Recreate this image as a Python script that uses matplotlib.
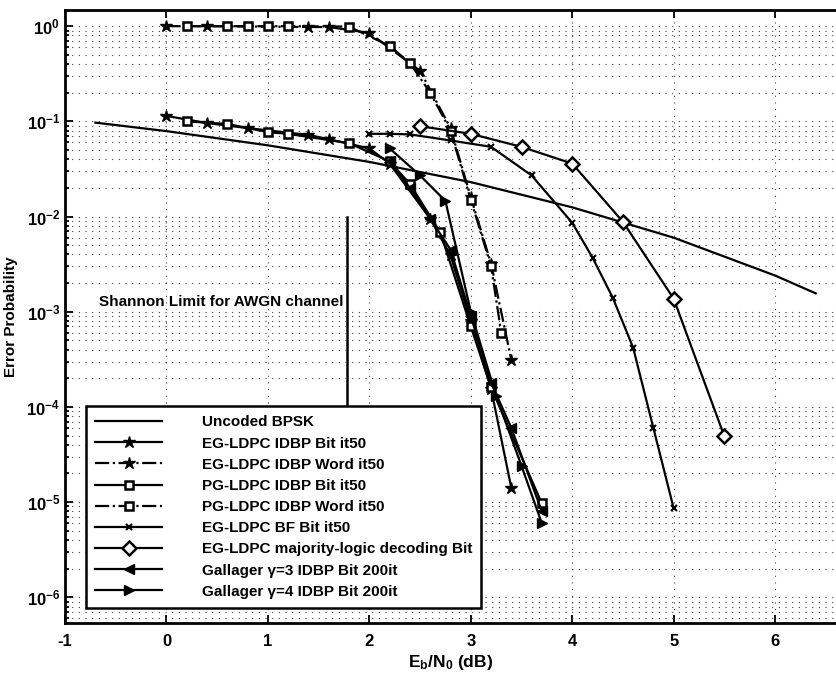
import math
import matplotlib
matplotlib.use("Agg")
import matplotlib.pyplot as plt
from matplotlib.ticker import FixedLocator, FuncFormatter, LogLocator, NullFormatter

plt.rcParams['font.family'] = ['Liberation Sans', 'DejaVu Sans']
plt.rcParams['mathtext.fontset'] = 'custom'
plt.rcParams['mathtext.rm'] = 'Liberation Sans'
plt.rcParams['mathtext.bf'] = 'Liberation Sans:bold'
plt.rcParams['mathtext.it'] = 'Liberation Sans:italic'

# ---------------- data ----------------
bpsk_x = [-0.7, 0, 1, 2, 3, 4, 5, 6, 6.4]
bpsk_y = [0.097, 0.079, 0.056, 0.0375, 0.023, 0.0125, 0.006, 0.0024, 0.00156]

eg_bit_x = [0, 0.4, 0.8, 1.4, 1.6, 2.0, 2.2, 2.6, 2.8, 3.0, 3.2, 3.4]
eg_bit_y = [0.114, 0.096, 0.085, 0.072, 0.065, 0.052, 0.036, 0.0095, 0.0039, 8e-4, 1.55e-4, 1.4e-5]

eg_word_x = [0, 0.4, 1.4, 1.6, 2.0, 2.5, 2.8, 3.0, 3.2, 3.4]
eg_word_y = [1.0, 1.0, 0.98, 0.98, 0.85, 0.34, 0.085, 0.016, 3.2e-3, 3.1e-4]

pg_bit_x = [0.2, 0.6, 1.0, 1.2, 1.8, 2.2, 2.4, 2.7, 3.0, 3.2, 3.7]
pg_bit_y = [0.10, 0.094, 0.077, 0.074, 0.059, 0.038, 0.022, 0.0068, 7e-4, 1.6e-4, 9.7e-6]

pg_word_x = [0.2, 0.6, 0.8, 1.0, 1.2, 1.8, 2.2, 2.4, 2.6, 2.8, 3.0, 3.2, 3.3]
pg_word_y = [1.0, 1.0, 1.0, 1.0, 1.0, 0.99, 0.62, 0.41, 0.2, 0.08, 0.015, 3e-3, 6e-4]

bf_x = [2.0, 2.2, 2.4, 2.8, 3.2, 3.6, 4.0, 4.2, 4.4, 4.6, 4.8, 5.0]
bf_y = [0.074, 0.074, 0.073, 0.063, 0.054, 0.027, 0.0086, 0.0037, 0.0014, 4.2e-4, 6e-5, 8.6e-6]

mlg_x = [2.5, 3.0, 3.5, 4.0, 4.5, 5.0, 5.5]
mlg_y = [0.089, 0.074, 0.054, 0.036, 0.0088, 0.00137, 4.9e-5]

gal3_x = [2.2, 2.4, 2.6, 2.8, 3.0, 3.2, 3.4, 3.7]
gal3_y = [0.038, 0.02, 0.0095, 0.0045, 9e-4, 1.8e-4, 6e-5, 8e-6]

gal4_x = [2.2, 2.5, 2.75, 3.0, 3.25, 3.5, 3.7]
gal4_y = [0.052, 0.027, 0.0146, 1e-3, 1.3e-4, 2.4e-5, 6e-6]

shannon_x = 1.78
shannon_y = [1e-2, 1e-4]

labels = ["Uncoded BPSK",
          "EG-LDPC IDBP Bit it50",
          "EG-LDPC IDBP Word it50",
          "PG-LDPC IDBP Bit it50",
          "PG-LDPC IDBP Word it50",
          "EG-LDPC BF Bit it50",
          "EG-LDPC majority-logic decoding Bit",
          "Gallager \u03b3=3 IDBP Bit 200it",
          "Gallager \u03b3=4 IDBP Bit 200it"]

xticks = [-1, 0, 1, 2, 3, 4, 5, 6]
yticks_exp = [0, -1, -2, -3, -4, -5, -6]

# ---------------- figure ----------------
W, H = 836, 679
fig = plt.figure(figsize=(W / 100, H / 100), dpi=100)
ax = fig.add_axes([65 / W, 56 / H, 1 - 65 / W, (623 - 10) / H])

lw = 1.6
k = 'black'
ax.semilogy(bpsk_x, bpsk_y, '-', color=k, lw=lw, label=labels[0])
ax.semilogy(eg_bit_x, eg_bit_y, '-', color=k, lw=lw, marker='*', ms=9,
            mfc=k, mec=k, label=labels[1])
ax.semilogy(eg_word_x, eg_word_y, '-.', color=k, lw=lw, marker='*', ms=9,
            mfc=k, mec=k, label=labels[2])
ax.semilogy(pg_bit_x, pg_bit_y, '-', color=k, lw=lw, marker='s', ms=6,
            mfc='white', mec=k, mew=1.8, label=labels[3])
ax.semilogy(pg_word_x, pg_word_y, '-.', color=k, lw=lw, marker='s', ms=6,
            mfc='white', mec=k, mew=1.8, label=labels[4])
ax.semilogy(bf_x, bf_y, '-', color=k, lw=lw, marker='x', ms=5, mew=1.5,
            label=labels[5])
ax.semilogy(mlg_x, mlg_y, '-', color=k, lw=lw, marker='D', ms=7,
            mfc='white', mec=k, mew=1.8, label=labels[6])
ax.semilogy(gal3_x, gal3_y, '-', color=k, lw=lw, marker='<', ms=7,
            mfc=k, mec=k, label=labels[7])
ax.semilogy(gal4_x, gal4_y, '-', color=k, lw=lw, marker='>', ms=7,
            mfc=k, mec=k, label=labels[8])

ax.plot([shannon_x, shannon_x], shannon_y, '-', color=k, lw=1.8, zorder=1)
ax.text(shannon_x - 0.03, 10 ** -2.9, "Shannon Limit for AWGN channel",
        ha='right', va='center', fontsize=11, fontweight='bold')

ax.set_xlim(-1, 6.6)
ax.set_ylim(10 ** -6.27, 10 ** 0.17)

ax.xaxis.set_major_locator(FixedLocator(xticks))
ax.set_xticklabels([str(v) for v in xticks], fontsize=12, fontweight='bold')
ax.yaxis.set_major_locator(FixedLocator([10.0 ** e for e in yticks_exp]))
ax.yaxis.set_major_formatter(FuncFormatter(
    lambda v, p: r'$\mathbf{10^{%d}}$' % round(math.log10(v))))
ax.yaxis.set_minor_locator(LogLocator(base=10, subs=range(2, 10), numticks=20))
ax.yaxis.set_minor_formatter(NullFormatter())

ax.tick_params(which='both', direction='in', top=True, right=False, width=1.3)
ax.tick_params(which='major', length=6, labelsize=12)
ax.tick_params(axis='x', which='major', pad=8)
ax.tick_params(which='minor', length=3)
gl = dict(color='0.25', lw=0.8, dashes=(1, 5))
ax.grid(True, which='major', axis='both', **gl)
ax.grid(True, which='minor', axis='y', **gl)

for s in ['left', 'bottom', 'top']:
    ax.spines[s].set_linewidth(2.0)
ax.spines['right'].set_visible(False)

ax.set_xlabel(r'$\mathbf{E_b/N_0}$ (dB)', fontsize=12.5, fontweight='bold', labelpad=3)
ax.set_ylabel('Error Probability', fontsize=11, fontweight='bold', labelpad=6)

leg = ax.legend(loc='lower left', bbox_to_anchor=(0.027, 0.0245),
                borderaxespad=0, fancybox=False, framealpha=1,
                edgecolor=k, handlelength=4.4, handletextpad=2.6,
                labelspacing=0.47, borderpad=0.6,
                prop={'size': 11, 'weight': 'bold'})
leg.get_frame().set_linewidth(1.8)
leg.set_zorder(5)

fig.savefig("out.png", dpi=100)
